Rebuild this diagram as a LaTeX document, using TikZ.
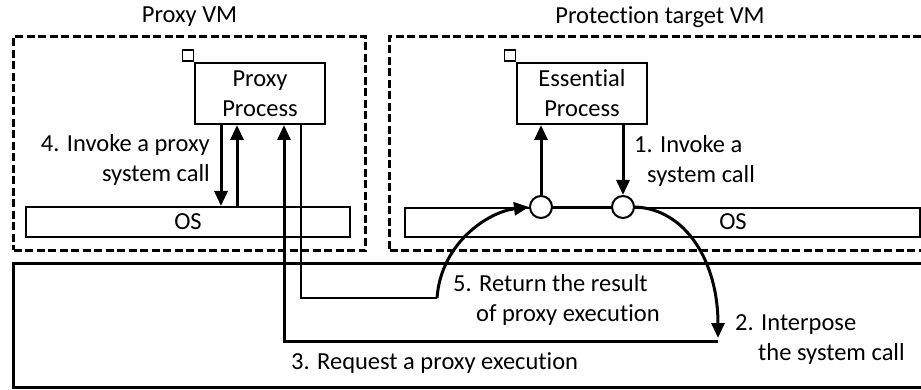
\documentclass[tikz,border=0pt]{standalone}
\usepackage{fontspec}
\setmainfont{Carlito}[Ligatures=NoCommon]
\usetikzlibrary{arrows.meta}
\begin{document}
\begin{tikzpicture}[x=1pt,y=-1pt,
  lbl/.style={inner sep=0pt, font=\fontsize{24.5}{30}\selectfont},
  vmbox/.style={draw, line width=3pt, dash pattern=on 8pt off 3.5pt, inner sep=0pt},
  hostbox/.style={draw, line width=2.5pt, inner sep=0pt},
  procbox/.style={draw, line width=2pt, fill=white, align=center, inner sep=0pt,
    font=\fontsize{24.5}{30}\selectfont},
  osbox/.style={draw, line width=2pt, fill=white, inner sep=0pt,
    font=\fontsize{24.5}{30}\selectfont},
  tagbox/.style={draw, line width=1.5pt, fill=white, minimum size=11pt, inner sep=0pt},
  hook/.style={circle, draw, line width=2pt, fill=white, minimum size=22pt, inner sep=0pt},
  flow/.style={line width=3pt, -{Triangle[length=15pt,width=13pt]}},
  thin flow/.style={line width=2pt},
]
\useasboundingbox (0,0) rectangle (921,390);
\clip (0,0) rectangle (921,390);

% virtual machines and the host below them
\node[vmbox, minimum width=352pt, minimum height=214pt, anchor=north west] (vmp) at (12,35) {};
\node[vmbox, minimum width=544pt, minimum height=214pt, anchor=north west] (vmt) at (388,35) {};
\node[hostbox, minimum width=920pt, minimum height=124pt, anchor=north west] (host) at (12,262) {};

\node[lbl] (tp) at (189.5,17) {Proxy VM};
\node[lbl] (tt) at (660,17) {Protection target VM};

% processes with their small tags
\node[procbox, minimum width=130pt, minimum height=61pt, anchor=north west] (pp) at (194,62) {Proxy\\Process};
\node[tagbox, anchor=south east] (ppt) at (pp.north west) {};
\node[procbox, minimum width=130pt, minimum height=61pt, anchor=north west] (ep) at (516,62) {Essential\\Process};
\node[tagbox, anchor=south east] (ept) at (ep.north west) {};

% operating systems
\node[osbox, minimum width=324pt, minimum height=30pt, anchor=north west] (os1) at (25,206) {OS};
\node[osbox, minimum width=515pt, minimum height=29pt, anchor=north west] (os2) at (404,207) {};
\node[lbl] (os2t) at (733,221.5) {OS};

% interposition points on the target OS
\draw[thin flow] (541,207) -- (623,207);
\node[hook] (h1) at (541,207) {};
\node[hook] (h2) at (623,207) {};

% proxy side system call
\draw[flow] (221,0 |- pp.south) -- (221,0 |- os1.north);
\draw[flow] (237,0 |- os1.north) -- (237,0 |- pp.south);
\node[lbl, align=right, anchor=east] (l4) at (210,160) {4. Invoke a proxy\\system call};

% target side system call
\draw[flow] (h1.north) -- (541,0 |- ep.south);
\draw[flow] (623,0 |- ep.south) -- (h2.north);
\node[lbl, align=left, anchor=west] (l1) at (634,161) {1. Invoke a\\\hspace*{13pt}system call};

% interposition and proxy request
\coordinate (tip2) at (718,338);
\coordinate (rq) at (718,341);
\draw[flow] (h2.east) .. controls (686,209) and (718,262) .. (tip2);
\node[lbl, align=left, anchor=west] (l2) at (735,339.5) {2. Interpose\\\hspace*{23pt}the system call};
\draw[flow] (rq) -- (284,341) -- (284,0 |- pp.south);
\node[lbl, anchor=west] (l3) at (291,363) {3. Request a proxy execution};

% returning the result
\coordinate (rt) at (437,298);
\draw[thin flow] (301,0 |- pp.south) -- (301,298) -- (rt);
\draw[flow] (rt) .. controls (441,243) and (488,212) .. (h1.west);
\node[lbl, align=left, anchor=west] (l5) at (453,299.5) {5. Return the result\\\hspace*{23pt}of proxy execution};
\end{tikzpicture}
\end{document}
